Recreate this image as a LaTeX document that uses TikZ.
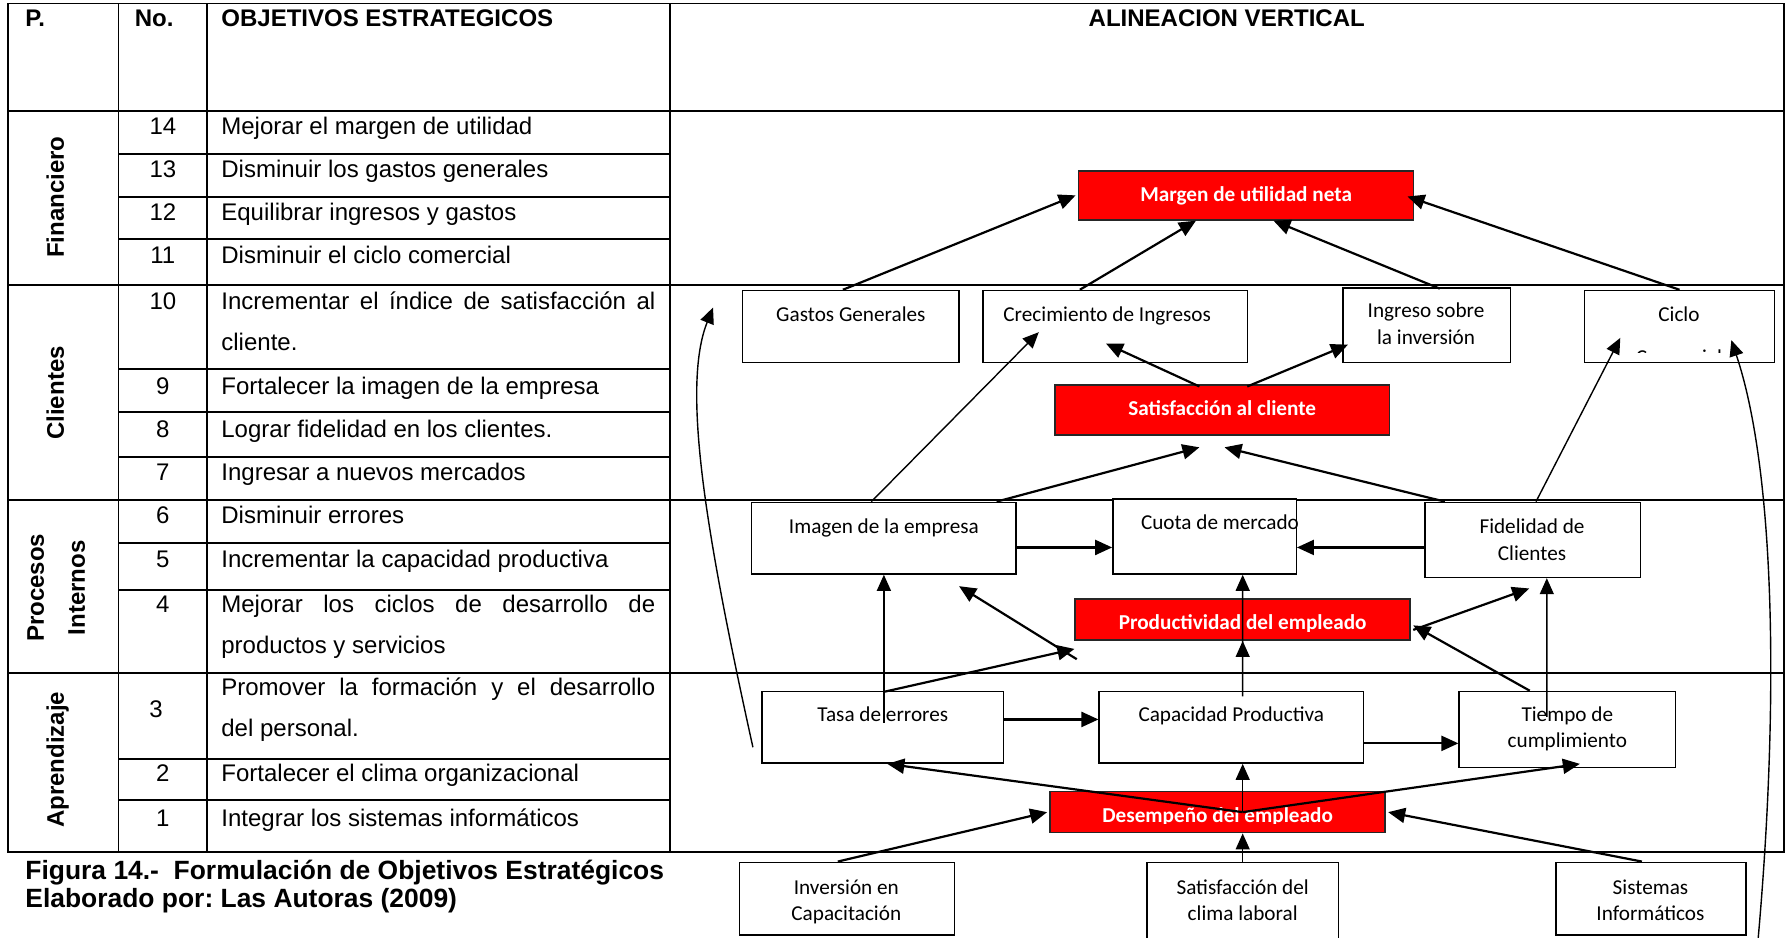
\documentclass[tikz,border=0pt]{standalone}
\usepackage{fontspec}
\setmainfont{Liberation Sans}
\newfontfamily\calibri{Carlito}
\usetikzlibrary{arrows.meta,calc,fit}
\frenchspacing

\begin{document}
\begin{tikzpicture}[x=0.02cm,y=-0.02cm,
  grid/.style={line width=0.9pt},
  cell/.style={anchor=base, inner sep=0, font=\fontsize{12}{14}\selectfont},
  celltxt/.style={anchor=base west, inner sep=0, font=\fontsize{12}{14}\selectfont},
  head/.style={anchor=base west, inner sep=0, font=\bfseries\fontsize{12}{14}\selectfont},
  persp/.style={rotate=90, anchor=base, inner sep=0, font=\bfseries\fontsize{12}{14}\selectfont},
  capt/.style={anchor=base west, inner sep=0, font=\bfseries\fontsize{13.2}{15}\selectfont},
  box/.style={draw, line width=0.7pt, inner sep=0, fill=white},
  redbox/.style={draw=black!85, line width=0.8pt, inner sep=0, fill=red},
  btxt/.style={anchor=base, inner sep=0, font=\calibri\fontsize{10.6}{13}\selectfont},
  rtxt/.style={anchor=base, inner sep=0, text=white, font=\calibri\bfseries\fontsize{10.6}{13}\selectfont},
  arr/.style={-{Triangle[length=8.5pt,width=7.5pt]}, line width=1.1pt},
  tarr/.style={-{Triangle[length=8pt,width=7pt]}, line width=0.7pt},
]
\useasboundingbox (0,0) rectangle (1568,823);

% ---------- table grid ----------
\draw[grid] (7,3) rectangle (1566,748);
\foreach \x in {104,182,588} \draw[grid] (\x,3) -- (\x,748);
\foreach \y in {97.5,250,439,591} \draw[grid] (7,\y) -- (1566,\y);
\foreach \y in {135,173,210,324,362,401,477,518,666,702.5} \draw[grid] (104,\y) -- (588,\y);

% ---------- header ----------
\node[head] (hp) at (22,23) {P.};
\node[head] (hno) at (118,23) {No.};
\node[head] (hobj) at (194,23) {OBJETIVOS ESTRATEGICOS};
\node[head, anchor=base] (halin) at (1077,23) {ALINEACION VERTICAL};

% ---------- perspectives ----------
\node[persp] (pfin) at (56,173) {Financiero};
\node[persp] (pcli) at (56,345) {Clientes};
\node[persp] (ppro) at (38.5,516) {Procesos};
\node[persp] (pint) at (74.5,516) {Internos};
\node[persp] (papr) at (56,667) {Aprendizaje};

% ---------- objectives ----------
\foreach \n/\y/\t in {14/118/Mejorar el margen de utilidad,
                      13/156/Disminuir los gastos generales,
                      12/194/Equilibrar ingresos y gastos,
                      11/231/Disminuir el ciclo comercial,
                      9/346/Fortalecer la imagen de la empresa,
                      8/384/Lograr fidelidad en los clientes.,
                      7/422/Ingresar a nuevos mercados,
                      6/460/Disminuir errores,
                      5/498/Incrementar la capacidad productiva,
                      2/686/Fortalecer el clima organizacional,
                      1/726/Integrar los sistemas informáticos}{
  \node[cell] (num\n) at (143,\y) {\n};
  \node[celltxt] (obj\n) at (194,\y) {\t};
}
\node[cell] (num10) at (143,272) {10};
\node[celltxt] (obj10a) at (194,272) {\makebox[7.62cm][s]{Incrementar el índice de satisfacción al}};
\node[celltxt] (obj10b) at (194,308) {cliente.};
\node[cell] (num4) at (143,538) {4};
\node[celltxt] (obj4a) at (194,538) {\makebox[7.62cm][s]{Mejorar los ciclos de desarrollo de}};
\node[celltxt] (obj4b) at (194,574) {productos y servicios};
\node[cell] (num3) at (137,630) {3};
\node[celltxt] (obj3a) at (194,611) {\makebox[7.62cm][s]{Promover la formación y el desarrollo}};
\node[celltxt] (obj3b) at (194,647) {del personal.};

% ---------- caption ----------
\node[capt] (cap1) at (22,772) {Figura 14.-\ \ Formulación de Objetivos Estratégicos};
\node[capt] (cap2) at (22,797) {Elaborado por: Las Autoras (2009)};

% ---------- boxes ----------
\node[redbox, fit={(947,150) (1241,193)}] (margen) {};
\node[box, fit={(652,255) (842,318)}] (gastos) {};
\node[box, fit={(863,255) (1095,318)}] (crec) {};
\node[box, fit={(1179,253) (1326,318)}] (ingreso) {};
\node[box, fit={(1391,255) (1558,318)}] (ciclo) {};
\node[redbox, fit={(926,338) (1220,382)}] (satcli) {};
\node[box, fit={(660,441) (892,504)}] (imagen) {};
\node[box, fit={(977,438) (1138,504)}] (cuota) {};
\node[box, fit={(1251,441) (1440,507)}] (fidel) {};
\node[redbox, fit={(944,526) (1238,562)}] (prod) {};
\node[box, fit={(669,607) (881,670)}] (tasa) {};
\node[box, fit={(965,607) (1197,670)}] (capac) {};
\node[box, fit={(1281,607) (1471,674)}] (tiempo) {};
\node[redbox, fit={(922,695) (1216,731)}] (desemp) {};
\node[box, fit={(649,757) (838,821)}] (invers) {};
\node[box, fit={(1007,757) (1175,840)}] (clima) {};
\node[box, fit={(1366,757) (1533,821)}] (sistem) {};

% ---------- box texts ----------
\node[rtxt] (tmargen) at (1094,177) {Margen de utilidad neta};
\node[btxt] (tgastos) at (747,282) {Gastos Generales};
\node[btxt] (tcrec) at (972,282) {Crecimiento de Ingresos};
\node[btxt] (tingr1) at (1252,279) {Ingreso sobre};
\node[btxt] (tingr2) at (1252,302) {la inversión};
\node[btxt] (tciclo1) at (1474,282) {Ciclo};
\begin{scope}
  \clip (ciclo.north west) rectangle ($(ciclo.south east)+(0,-9)$);
  \node[btxt] (tciclo2) at (1474,320) {Comercial};
\end{scope}
\node[rtxt] (tsatcli) at (1073,365) {Satisfacción al cliente};
\node[btxt] (timagen) at (776,468) {Imagen de la empresa};
\node[btxt] (tcuota) at (1071,465) {Cuota de mercado};
\node[btxt] (tfidel1) at (1345,468) {Fidelidad de};
\node[btxt] (tfidel2) at (1345,492) {Clientes};
\begin{scope}
  \clip (prod.north west) rectangle ($(prod.south east)+(0,-8.5)$);
  \node[rtxt] (tprod) at (1091,553) {Productividad del empleado};
\end{scope}
\node[btxt] (ttasa) at (775,633) {Tasa de errores};
\node[btxt] (tcapac) at (1081,633) {Capacidad Productiva};
\node[btxt] (ttiem1) at (1376,633) {Tiempo de};
\node[btxt] (ttiem2) at (1376,656) {cumplimiento};
\begin{scope}
  \clip (desemp.north west) rectangle ($(desemp.south east)+(0,-8.5)$);
  \node[rtxt] (tdesemp) at (1069,722) {Desempeño del empleado};
\end{scope}
\node[btxt] (tinv1) at (743,785) {Inversión en};
\node[btxt] (tinv2) at (743,808) {Capacitación};
\node[btxt] (tclima1) at (1091,785) {Satisfacción del};
\node[btxt] (tclima2) at (1091,808) {clima laboral};
\node[btxt] (tsis1) at (1449,785) {Sistemas};
\node[btxt] (tsis2) at (1449,808) {Informáticos};

% ---------- financial level ----------
\draw[arr] ($(gastos.north)+(-7,0)$) -- ($(margen.west)+(-2,0)$);
\draw[arr] ($(crec.north)+(-31,0)$) -- ($(margen.south)+(-44,0)$);
\draw[arr] ($(ingreso.north)+(11.5,1)$) -- ($(margen.south)+(24,0)$);
\draw[arr] ($(ciclo.north)+(0,0)$) -- ($(margen.east)+(-6,1)$);

% ---------- customer level ----------
\draw[arr] ($(satcli.north)+(-20,2)$) -- ($(crec.south)+(-8,-17)$);
\draw[arr] ($(satcli.north)+(22,2)$) -- ($(ingreso.south west)+(5,-16)$);
\draw[tarr] ($(imagen.north)+(-11,0)$) -- ($(crec.south)+(-67,-27)$);
\draw[arr] ($(imagen.north)+(99,0)$) -- ($(satcli.south)+(-20,10)$);
\draw[arr] ($(fidel.north)+(-77,0)$) -- ($(satcli.south)+(2,10)$);
\draw[tarr] ($(fidel.north)+(3,0)$) -- ($(ciclo.south)+(-52,-22)$);
\coordinate (rcurve) at (1543,830);
\draw[tarr] (rcurve) .. controls (1562,620) and (1559,415) .. ($(ciclo.south)+(45.5,-20)$);
\coordinate (lcurve) at (661,656);
\coordinate (lcurvetip) at (626,270);
\draw[tarr] (lcurve) .. controls (620,470) and (598,340) .. (lcurvetip);

% ---------- internal processes level ----------
\draw[arr] ($(imagen.south east)+(0,-24)$) -- ($(cuota.south west)+(0,-24)$);
\draw[arr] ($(fidel.south west)+(0,-27)$) -- ($(cuota.south east)+(0,-24)$);
\draw[tarr] ($(tasa.north)+(1,28)$) -- (imagen.south);
\draw[arr] ($(tasa.north)+(1,1)$) -- ($(prod.south west)+(0,7)$);
\draw[arr] ($(prod.south west)+(2,16)$) -- ($(imagen.south)+(66,10)$);
\draw[tarr] ($(capac.north)+(10,5)$) -- ($(cuota.south)+(33.5,0)$);
\draw[tarr] ($(capac.north)+(10,0)$) -- (prod.south);
\draw[arr] ($(tiempo.north)+(-33,0)$) -- ($(prod.east)+(2,5)$);
\draw[arr] ($(prod.east)+(2,9)$) -- ($(fidel.south)+(-3,9)$);
\draw[tarr] ($(tiempo.north)+(-18,23)$) -- ($(fidel.south)+(12.5,0)$);

% ---------- learning level ----------
\draw[arr] ($(tasa.south east)+(0,-39)$) -- ($(capac.south west)+(0,-39)$);
\draw[arr] ($(capac.south east)+(0,-18)$) -- ($(tiempo.south west)+(0,-22)$);
\coordinate (vtip) at ($(desemp.center)+(22,0)$);
\draw[arr] (vtip) -- ($(tasa.south)+(4,0)$);
\draw[arr] (vtip) -- ($(tiempo.south)+(11,-4)$);
\draw[tarr] (vtip) -- ($(capac.south)+(10,0)$);
\draw[tarr] (clima.north |- 0,757) -- ($(desemp.south)+(22,0)$);
\draw[arr] ($(invers.north)+(-8,0)$) -- ($(desemp.west)+(-2,0)$);
\draw[arr] ($(sistem.north)+(-8,0)$) -- ($(desemp.east)+(2,0)$);
\end{tikzpicture}
\end{document}
